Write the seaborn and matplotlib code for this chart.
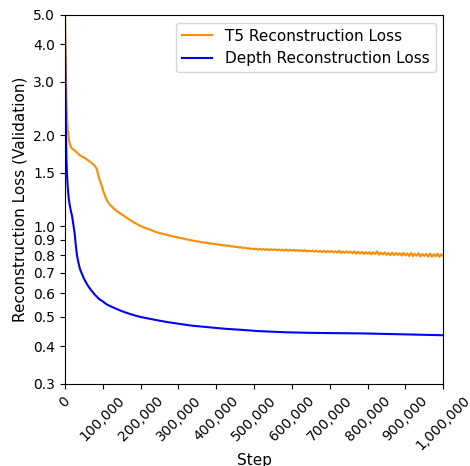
import pandas as pd
import matplotlib
matplotlib.use('Agg')
import matplotlib.pyplot as plt
import seaborn as sns
from matplotlib.ticker import FuncFormatter, NullLocator

# T5 reconstruction loss (validation)
t5_early_steps = [0, 2000, 4000, 6000, 8000, 11000, 14000, 18000, 23000, 28000,
                  33000, 38000, 45000, 50000, 55000, 60000, 65000, 71000, 76000, 81000,
                  85000, 89000, 93000, 98000, 102000, 107000, 112000, 118000, 124000, 130000,
                  140000, 151000, 160000, 170000, 180000, 190000, 200000]
t5_early_loss = [5.5, 3.6, 2.7, 2.25, 2.05, 1.92, 1.85, 1.81, 1.79, 1.77,
                 1.745, 1.72, 1.70, 1.685, 1.672, 1.655, 1.637, 1.615, 1.597, 1.57,
                 1.535, 1.46, 1.41, 1.35, 1.30, 1.25, 1.21, 1.18, 1.16, 1.14,
                 1.115, 1.09, 1.072, 1.051, 1.032, 1.016, 1.0]
# every 5,000 steps from 205,000 to 1,000,000
t5_late_steps = list(range(205000, 1000001, 5000))
t5_late_loss = [
    0.995, 0.987, 0.984, 0.976, 0.974, 0.966, 0.963, 0.955, 0.953, 0.946,
    0.946, 0.940, 0.939, 0.933, 0.932, 0.927, 0.926, 0.920, 0.920, 0.915,
    0.914, 0.909, 0.909, 0.903, 0.903, 0.898, 0.898, 0.893, 0.893, 0.888,
    0.889, 0.883, 0.885, 0.879, 0.881, 0.876, 0.878, 0.872, 0.874, 0.869,
    0.870, 0.865, 0.867, 0.861, 0.864, 0.858, 0.861, 0.855, 0.858, 0.852,
    0.854, 0.849, 0.851, 0.846, 0.848, 0.843, 0.845, 0.840, 0.842, 0.838,
    0.842, 0.835, 0.840, 0.834, 0.840, 0.833, 0.839, 0.832, 0.838, 0.833,
    0.838, 0.831, 0.837, 0.830, 0.836, 0.829, 0.836, 0.828, 0.835, 0.829,
    0.834, 0.827, 0.833, 0.826, 0.832, 0.825, 0.832, 0.824, 0.830, 0.824,
    0.830, 0.822, 0.829, 0.821, 0.828, 0.820, 0.828, 0.819, 0.827, 0.820,
    0.826, 0.818, 0.825, 0.817, 0.828, 0.815, 0.823, 0.815, 0.825, 0.815,
    0.823, 0.813, 0.824, 0.810, 0.822, 0.811, 0.821, 0.808, 0.820, 0.810,
    0.820, 0.806, 0.819, 0.808, 0.825, 0.804, 0.817, 0.805, 0.818, 0.803,
    0.815, 0.801, 0.816, 0.800, 0.814, 0.802, 0.813, 0.798, 0.815, 0.799,
    0.812, 0.796, 0.814, 0.795, 0.810, 0.797, 0.813, 0.793, 0.808, 0.796,
    0.809, 0.792, 0.811, 0.791, 0.807, 0.794, 0.810, 0.790, 0.806, 0.797]

# Depth reconstruction loss (validation)
depth_steps = [0, 1000, 2500, 4000, 5500, 7500, 10000, 13000, 16000, 19000,
               22000, 25700, 29000, 32000, 36000, 40000, 45000, 50000, 56000, 63000,
               70000, 80000, 90000, 100000, 110000, 120000, 133000, 150000, 165000, 180000,
               200000, 225000, 250000, 275000, 300000, 335000, 375000, 423000, 470000, 511000,
               582000, 650000, 714000, 790000, 860000, 930000, 1000000]
depth_loss = [5.5, 3.5, 2.2, 1.7, 1.5, 1.35, 1.24, 1.17, 1.12, 1.08,
              1.02, 0.95, 0.86, 0.80, 0.755, 0.72, 0.695, 0.672, 0.65, 0.629,
              0.612, 0.591, 0.574, 0.563, 0.551, 0.543, 0.534, 0.523, 0.515, 0.508,
              0.500, 0.493, 0.486, 0.480, 0.475, 0.468, 0.463, 0.457, 0.453, 0.449,
              0.445, 0.443, 0.442, 0.441, 0.439, 0.437, 0.435]

y_ticks = [0.3, 0.4, 0.5, 0.6, 0.7, 0.8, 0.9, 1.0, 1.5, 2.0, 3.0, 4.0, 5.0]
x_ticks = list(range(0, 1000001, 100000))

t5_df = pd.DataFrame({'Step': t5_early_steps + t5_late_steps,
                      'Loss': t5_early_loss + t5_late_loss})
depth_df = pd.DataFrame({'Step': depth_steps, 'Loss': depth_loss})

fig, ax = plt.subplots(figsize=(4.7, 4.66), dpi=100)
fig.subplots_adjust(left=0.138, right=0.943, top=0.968, bottom=0.176)

sns.lineplot(data=t5_df, x='Step', y='Loss', color='darkorange', linewidth=1.5,
             estimator=None, label='T5 Reconstruction Loss', ax=ax)
sns.lineplot(data=depth_df, x='Step', y='Loss', color='blue', linewidth=1.5,
             estimator=None, label='Depth Reconstruction Loss', ax=ax)

ax.set_yscale('log')
ax.set_ylim(0.3, 5.0)
ax.set_xlim(0, 1000000)
ax.yaxis.set_minor_locator(NullLocator())
ax.set_yticks(y_ticks)
ax.yaxis.set_major_formatter(FuncFormatter(lambda v, p: f'{v:.1f}'))
ax.set_xticks(x_ticks)
ax.xaxis.set_major_formatter(FuncFormatter(lambda v, p: f'{int(v):,}'))
plt.setp(ax.get_xticklabels(), rotation=45)

ax.set_xlabel('Step', fontsize=11, labelpad=0)
ax.set_ylabel('Reconstruction Loss (Validation)', fontsize=11)
ax.legend(loc='upper right', fontsize=11)

fig.savefig('out.png', dpi=100)
